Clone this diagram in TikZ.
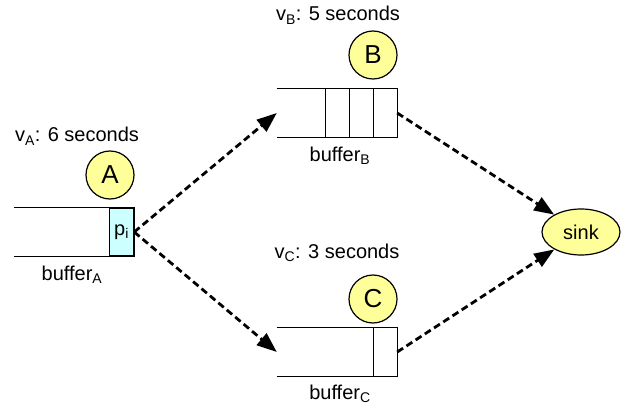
\documentclass[tikz,border=0pt]{standalone}
\usepackage{fontspec}
\setmainfont{Liberation Sans}
\usetikzlibrary{arrows.meta,shapes.geometric}
\definecolor{lyellow}{HTML}{FFFF99}
\definecolor{lcyan}{HTML}{CCFFFF}
\begin{document}
\begin{tikzpicture}[x=1pt,y=-1pt,
  proc/.style={circle,draw,line width=1.2pt,fill=lyellow,minimum size=48pt,inner sep=0pt,font=\fontsize{26}{30}\selectfont},
  lbl/.style={font=\fontsize{20}{24}\selectfont,inner sep=0pt,anchor=base},
  bufline/.style={line width=1.3pt},
  flow/.style={line width=2.8pt,dash pattern=on 7pt off 4pt,-{Triangle[length=20pt,width=15pt]}},
  slot/.style={minimum width=120pt,minimum height=48pt,inner sep=0pt}]
\useasboundingbox (0,0) rectangle (623,406);

% buffer A
\node[slot] (bufA) at (74,232) {};
\draw[bufline] (bufA.north west) -- (bufA.north east) -- (bufA.south east) -- (bufA.south west);
\node[draw,bufline,fill=lcyan,minimum width=24pt,minimum height=48pt,inner sep=0pt,anchor=east,font=\fontsize{20}{24}\selectfont] (pi) at (bufA.east) {p\textsubscript{i}};
\node[proc] (A) at (110,175) {A};
\node[lbl] (vA) at (77,142) {v\textsubscript{A}: 6 seconds};
\node[lbl] (lA) at (72,280) {buffer\textsubscript{A}};

% buffer B
\node[slot] (bufB) at (337,113) {};
\draw[bufline] (bufB.north west) -- (bufB.north east) -- (bufB.south east) -- (bufB.south west);
\foreach \d in {24,48,72}
  \draw[bufline] ([xshift=-\d pt]bufB.north east) -- ([xshift=-\d pt]bufB.south east);
\node[proc] (B) at (373,55) {B};
\node[lbl] (vB) at (338,21) {v\textsubscript{B}: 5 seconds};
\node[lbl] (lB) at (340,161) {buffer\textsubscript{B}};

% buffer C
\node[slot] (bufC) at (337,352) {};
\draw[bufline] (bufC.north west) -- (bufC.north east) -- (bufC.south east) -- (bufC.south west);
\draw[bufline] ([xshift=-24pt]bufC.north east) -- ([xshift=-24pt]bufC.south east);
\node[proc] (C) at (373,299) {C};
\node[lbl] (vC) at (337,258) {v\textsubscript{C}: 3 seconds};
\node[lbl] (lC) at (340,399) {buffer\textsubscript{C}};

% sink
\node[ellipse,draw,line width=1.2pt,fill=lyellow,minimum width=78pt,minimum height=46pt,inner sep=0pt,font=\fontsize{20}{24}\selectfont] (sink) at (581,232) {sink};

% flows
\draw[flow] (pi.east) -- (bufB.west);
\draw[flow] (pi.east) -- (bufC.west);
\draw[flow] (bufB.east) -- (sink);
\draw[flow] (bufC.east) -- (sink);
\end{tikzpicture}
\end{document}
